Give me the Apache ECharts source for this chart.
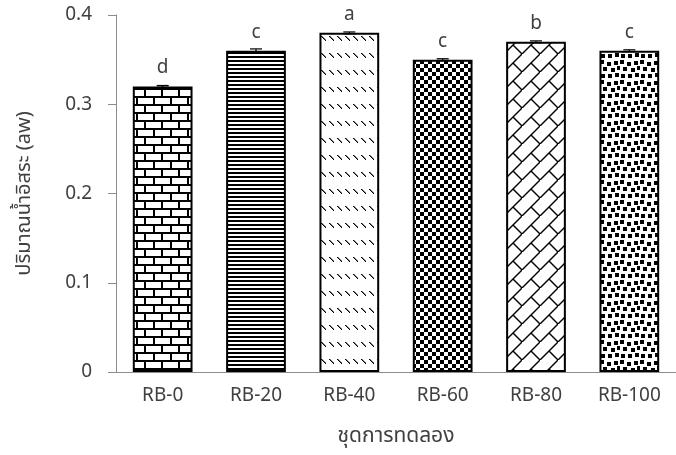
<!DOCTYPE html>
<html>
<head>
<meta charset="utf-8">
<script src="https://cdn.jsdelivr.net/npm/echarts@6/dist/echarts.min.js"></script>
<style>html,body{margin:0;padding:0;background:#fff}#c{width:676px;height:455px}</style>
</head>
<body>
<div id="c"></div>
<script>
var categories = ['RB-0', 'RB-20', 'RB-40', 'RB-60', 'RB-80', 'RB-100'];
var values = [0.32, 0.36, 0.38, 0.35, 0.37, 0.36];
var errors = [0.001, 0.002, 0.001, 0.001, 0.001, 0.001];
var letters = ['d', 'c', 'a', 'c', 'b', 'c'];
var yTicks = [0, 0.1, 0.2, 0.3, 0.4];

var FONT = "'Noto Sans', 'Noto Sans Thai', 'Leelawadee UI', sans-serif";
var TXT = '#404040';

function tile(w, h, draw) {
  var c = document.createElement('canvas');
  c.width = w; c.height = h;
  var g = c.getContext('2d');
  g.fillStyle = '#fff'; g.fillRect(0, 0, w, h);
  g.fillStyle = '#000'; g.strokeStyle = '#000';
  draw(g);
  return { image: c, repeat: 'repeat' };
}
var patterns = [
  // brick
  tile(34, 16, function (g) {
    g.fillRect(0, 0, 34, 2);
    g.fillRect(0, 8, 34, 2);
    g.fillRect(0, 0, 2, 8); g.fillRect(17, 0, 2, 8);
    g.fillRect(8, 8, 2, 8); g.fillRect(25, 8, 2, 8);
  }),
  // horizontal lines
  tile(4, 4, function (g) { g.fillRect(0, 0, 4, 2); }),
  // dashed diagonal rows
  tile(8, 17, function (g) {
    for (var i = 0; i < 5; i++) g.fillRect(1 + i, 2 + i, 1, 1);
    g.fillStyle = 'rgba(0,0,0,0.5)';
    for (var j = 0; j < 4; j++) g.fillRect(2 + j, 2 + j, 1, 1);
  }),
  // checkerboard
  tile(8, 8, function (g) { g.fillRect(0, 0, 4, 4); g.fillRect(4, 4, 4, 4); }),
  // diagonal brick
  tile(18, 18, function (g) {
    g.lineWidth = 1.4;
    g.beginPath(); g.moveTo(-1, 19); g.lineTo(19, -1); g.stroke();
    g.beginPath(); g.moveTo(9, 9); g.lineTo(19, 19); g.stroke();
  }),
  // large confetti
  tile(20, 20, function (g) {
    var sq = [[0,0],[7,2],[14,1],[3,7],[11,8],[17,6],[1,14],[8,14],[15,13]];
    sq.forEach(function (p) { g.fillRect(p[0], p[1], 4, 4); });
  })
];

var barData = values.map(function (v, i) {
  return { value: v, itemStyle: { color: patterns[i] } };
});
var errData = values.map(function (v, i) { return [i, v, errors[i]]; });

var chart = echarts.init(document.getElementById('c'), null, { renderer: 'canvas' });
chart.setOption({
  animation: false,
  backgroundColor: '#fff',
  grid: { left: 116, right: -10, top: 15, bottom: 83, containLabel: false },
  xAxis: {
    type: 'category',
    data: categories,
    name: 'ชุดการทดลอง',
    nameLocation: 'middle',
    nameGap: 54,
    nameTextStyle: { fontFamily: FONT, fontSize: 21, color: TXT },
    axisLine: { lineStyle: { color: '#8c8c8c', width: 1 } },
    axisTick: { show: false },
    axisLabel: { fontFamily: FONT, fontSize: 19, color: TXT, margin: 14 },
    splitLine: { show: false }
  },
  yAxis: {
    type: 'value',
    min: yTicks[0],
    max: yTicks[yTicks.length - 1],
    interval: 0.1,
    name: 'ปริมาณน้ำอิสระ (aw)',
    nameLocation: 'middle',
    nameGap: 82,
    nameRotate: 90,
    nameTextStyle: { fontFamily: FONT, fontSize: 20, color: TXT },
    axisLine: { show: true, lineStyle: { color: '#8c8c8c', width: 1 } },
    axisTick: { show: true, inside: false, length: 8, lineStyle: { color: '#8c8c8c' } },
    axisLabel: { fontFamily: FONT, fontSize: 19, color: TXT, margin: 24 },
    splitLine: { show: false }
  },
  series: [
    {
      type: 'bar',
      data: barData,
      barCategoryGap: '36%',
      itemStyle: { borderColor: '#000', borderWidth: 2 },
      label: {
        show: true,
        position: 'top',
        distance: 9,
        fontFamily: FONT,
        fontSize: 19,
        color: TXT,
        formatter: function (p) { return letters[p.dataIndex]; }
      },
      z: 2
    },
    {
      type: 'custom',
      data: errData,
      z: 5,
      renderItem: function (params, api) {
        var x = api.value(0), v = api.value(1), e = api.value(2);
        var hi = api.coord([x, v + e]);
        var lo = api.coord([x, v - e]);
        var cw = 6;
        var st = { stroke: '#000', lineWidth: 1.2 };
        return {
          type: 'group',
          children: [
            { type: 'line', shape: { x1: hi[0], y1: hi[1], x2: lo[0], y2: lo[1] }, style: st },
            { type: 'line', shape: { x1: hi[0] - cw, y1: hi[1], x2: hi[0] + cw, y2: hi[1] }, style: st },
            { type: 'line', shape: { x1: lo[0] - cw, y1: lo[1], x2: lo[0] + cw, y2: lo[1] }, style: st }
          ]
        };
      }
    }
  ]
});
</script>
</body>
</html>
